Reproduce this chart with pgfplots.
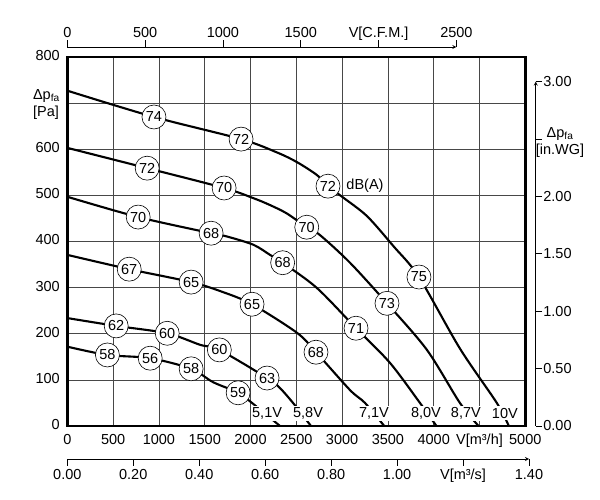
\documentclass[border=0pt]{standalone}
\usepackage{pgfplots}
\pgfplotsset{compat=1.18}
\usepackage{fontspec}
\setmainfont{Liberation Sans}
\newcommand{\chf}{\fontsize{14.5bp}{17bp}\selectfont}
\begin{document}
\chf
\begin{tikzpicture}
\pgfplotsset{
  every axis/.append style={font=\chf},
  sec/.style={scale only axis, clip=false,
    axis line style={-, line width=0.8bp, black},
    x axis line style={-}, y axis line style={-},
    tick style={black, line width=0.8bp},
    major tick length=6.5bp},
  curve/.style={black, line width=2.1bp, smooth, tension=0.5},
}
\begin{axis}[
  scale only axis, width=458bp, height=369bp,
  at={(0,0)}, anchor=south west,
  xmin=0, xmax=5000, ymin=0, ymax=800,
  xtick={0,500,...,5000},
  xticklabels={0,500,1000,1500,2000,2500,3000,3500,4000,{V[m³/h]},5000},
  ytick={0,100,...,800},
  yticklabels={0,100,200,300,400,500,600,{Δp\textsubscript{fa}\\{[Pa]}},800},
  typeset ticklabels with strut,
  xticklabel style={yshift=-1.7bp},
  yticklabel style={align=left, xshift=-2.5bp},
  grid=major,
  grid style={black!72, line width=0.7bp},
  major tick length=0pt,
  axis line style={line width=2.5bp, black},
  clip=false,
]
% 10V
\addplot[curve] coordinates {(0,727) (946,670) (1897,622) (2290,593) (2508,572) (2726,544) (2846,520) (3000,497) (3272,455) (3560,390) (3839,323) (4286,168) (4689,50) (4820,0)};
% 8.7V
\addplot[curve] coordinates {(0,603) (872,559) (1712,516) (2031,494) (2213,479) (2395,461) (2614,431) (2758,414) (3086,354) (3490,266) (3926,165) (4286,50) (4490,0)};
% 8.0V
\addplot[curve] coordinates {(0,497) (774,453) (1570,418) (1740,411) (2031,393) (2213,371) (2351,354) (2726,299) (3152,212) (3522,137) (3850,50) (4030,0)};
% 7.1V
\addplot[curve] coordinates {(0,371) (676,340) (1352,312) (1690,291) (2017,264) (2508,202) (2715,160) (3086,78) (3250,50) (3460,0)};
% 5.8V
\addplot[curve] coordinates {(0,234) (534,217) (1091,201) (1450,176) (1660,165) (2181,104) (2323,82) (2485,45) (2660,0)};
% 5.1V
\addplot[curve] coordinates {(0,172) (438,154) (905,147) (1352,124) (1592,95) (1865,72) (2060,43) (2322,0)};
% circles
\addplot[draw=none, mark=none, nodes near coords, point meta=explicit symbolic,
  nodes near coords align=center,
  every node near coord/.append style={circle, draw=black, fill=white, line width=0.6bp, minimum size=24bp, inner sep=0pt, anchor=center}]
  table[meta=l] {
x y l
946 670 74
1897 622 72
2846 520 72
3839 323 75
872 559 72
1712 516 70
2614 431 70
3490 266 73
774 453 70
1570 418 68
2351 354 68
3152 212 71
676 340 67
1352 312 65
2017 264 65
2715 160 68
534 217 62
1091 201 60
1660 165 60
2181 104 63
438 154 58
905 147 56
1352 124 58
1865 72 59
};
% voltage labels
\addplot[draw=none, mark=none, nodes near coords, point meta=explicit symbolic,
  nodes near coords align=center,
  every node near coord/.append style={fill=white, inner sep=1.5bp, anchor=center}]
  table[meta=l] {
x y l
2181 28 5,1V
2628 28 5,8V
3348 28 7,1V
3915 28 8,0V
4351 28 8,7V
4777 28 10V
};
% dB(A)
\addplot[draw=none, mark=none, nodes near coords, point meta=explicit symbolic,
  nodes near coords align=center,
  every node near coord/.append style={anchor=center, inner sep=0pt}]
  table[meta=l] {
x y l
3250 521 dB(A)
};
\end{axis}
% top CFM axis
\begin{axis}[sec, width=389.1bp, height=10bp, at={(0,379bp)}, anchor=north west,
  xmin=0, xmax=2500, ymin=0, ymax=1,
  axis x line=top, axis y line=none, tick align=outside,
  typeset ticklabels with strut,
  xticklabel style={inner ysep=0pt, yshift=-2.8bp},
  xtick={0,500,1000,1500,2000,2500},
  xticklabels={0,500,1000,1500,{V[C.F.M.]},2500}]
\end{axis}
% bottom m3/s axis
\begin{axis}[sec, width=461.7bp, height=10bp, at={(0,-33bp)}, anchor=south west,
  xmin=0, xmax=1.4, ymin=0, ymax=1,
  axis x line=bottom, axis y line=none, tick align=outside,
  typeset ticklabels with strut,
  xticklabel style={inner ysep=1.8bp},
  xtick={0,0.2,0.4,0.6,0.8,1,1.2,1.4},
  xticklabels={0.00,0.20,0.40,0.60,0.80,1.00,{V[m³/s]},1.40}]
\end{axis}
% right in.WG axis
\begin{axis}[sec, width=10bp, height=344.4bp, at={(468.4bp,0)}, anchor=south east,
  xmin=0, xmax=1, ymin=0, ymax=3,
  axis y line=right, axis x line=none, tick align=outside,
  yticklabel style={inner xsep=1bp},
  ytick={0,0.5,1,1.5,2,3},
  yticklabels={0.00,0.50,1.00,1.50,2.00,3.00},
  extra y ticks={2.5},
  extra y tick labels={{Δp\textsubscript{fa}\\{[in.WG]}}},
  extra y tick style={yticklabel style={align=center, xshift=-7.5bp, yshift=-3.5bp}}]
\end{axis}
\pgfresetboundingbox
\path[use as bounding box] (-67.3bp,-74bp) rectangle (532.7bp,426bp);
\end{tikzpicture}
\end{document}
